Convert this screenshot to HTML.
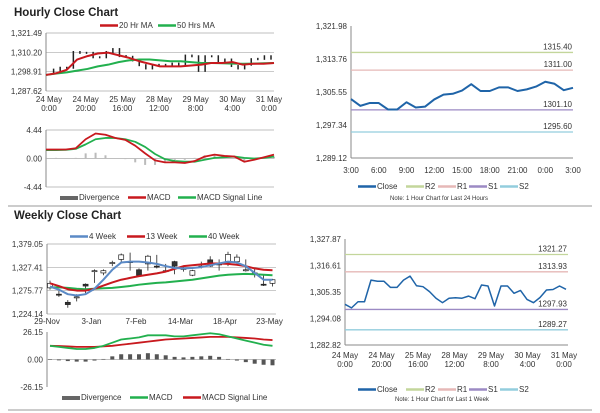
<!DOCTYPE html>
<html><head><meta charset="utf-8"><style>
body{margin:0;background:#fff}
svg{display:block;font-family:"Liberation Sans",sans-serif}
text{fill:#333;font-size:8px}
.t{font-size:11.5px;font-weight:bold;fill:#222}
</style></head><body>
<svg id="c" width="600" height="413" viewBox="0 0 600 413">
<text class="t" x="14" y="16">Hourly Close Chart</text>
<text class="t" x="14" y="219">Weekly Close Chart</text>
<line x1="8" y1="206" x2="592" y2="206" stroke="#999"/>
<line x1="8" y1="410" x2="592" y2="410" stroke="#999"/>
<text x="390" y="200" style="font-size:6px">Note: 1 Hour Chart for Last 24 Hours</text>
<text x="395" y="401" style="font-size:6px">Note: 1 Hour Chart for Last 1 Week</text>
</svg>
<script>
// ---- data ----
const hourTicks=[1321.49,1310.20,1298.91,1287.62];
const hourXLabels=[["24 May","0:00"],["24 May","20:00"],["25 May","16:00"],["28 May","12:00"],["29 May","8:00"],["30 May","4:00"],["31 May","0:00"]];
const weekHourClose=[1300.1,1298.6,1301.2,1301.2,1310.4,1309.9,1309.9,1307.3,1307.3,1310.4,1312.1,1308,1307.6,1305.5,1302.7,1300.8,1302.7,1302.9,1302.7,1303.6,1302.5,1308.3,1307.9,1299.4,1307.9,1307.9,1304.8,1306,1302.2,1300.8,1303,1306.2,1306.4,1307.9,1306.5];
const ma20=[1297,1298,1300,1306,1308,1309.5,1310,1308.5,1307,1305,1303.5,1302,1302,1302,1302.5,1303,1304,1304,1304.5,1303,1303.5,1303.5,1304];
const ma50=[1297,1297.8,1298.5,1299.5,1300.5,1302,1303,1304.5,1305.5,1306,1306,1305.5,1305,1305,1304.5,1304,1304,1303.8,1303.6,1303.5,1303.6,1303.8,1304];
const macdTicks=[4.44,0,-4.44];
const hMacd=[1.4,1.4,1.4,1.6,3.0,3.9,3.7,3.2,2.9,2.0,0.8,-0.3,-0.6,-0.6,-0.7,-0.4,0.3,0.6,0.4,0.3,-0.5,-0.2,0.2,0.6];
const hSignal=[1.3,1.3,1.35,1.5,2.2,3.0,3.2,3.2,3.0,2.6,1.8,0.7,-0.1,-0.4,-0.5,-0.5,-0.2,0.1,0.2,0.3,0.1,0,0.1,0.3];
const dayTicks=[1321.98,1313.76,1305.55,1297.34,1289.12];
const dayXLabels=["3:00","6:00","9:00","12:00","15:00","18:00","21:00","0:00","3:00"];
const dayClose=[1303.8,1302.1,1302.8,1302.8,1301.2,1301.2,1303.0,1301.7,1301.9,1303.7,1304.9,1305.1,1305.9,1307.5,1305.8,1305.8,1306.7,1306.7,1305.8,1306.2,1306.9,1308.1,1307.6,1306.0,1306.6];
const dayLevels=[1315.40,1311.00,1301.10,1295.60];
const weekTicks=[1327.87,1316.61,1305.35,1294.08,1282.82];
const weekLevels=[1321.27,1313.93,1297.93,1289.27];
const wTicks=[1379.05,1327.41,1275.77,1224.14];
const wLabels=["29-Nov","3-Jan","7-Feb","14-Mar","18-Apr","23-May"];
const wOpen=[1282,1268,1250,1262,1290,1320,1315,1338,1345,1340,1322,1335,1330,1318,1340,1325,1310,1330,1344,1333,1338,1340,1322,1315,1290,1292];
const wClose=[1292,1266,1245,1262,1286,1320,1320,1338,1355,1340,1310,1352,1328,1320,1330,1325,1320,1330,1330,1335,1356,1350,1322,1315,1288,1300];
const wHigh=[1298,1275,1255,1268,1292,1323,1323,1342,1358,1360,1325,1355,1355,1335,1342,1330,1322,1340,1352,1345,1362,1356,1345,1325,1310,1302];
const wLow=[1278,1262,1238,1252,1270,1293,1310,1330,1340,1320,1310,1320,1325,1318,1312,1318,1308,1325,1328,1320,1330,1335,1318,1305,1286,1285];
const w4=[1285,1278,1268,1265,1268,1280,1300,1322,1338,1340,1340,1338,1335,1330,1326,1325,1326,1328,1332,1336,1340,1338,1330,1315,1300,1300];
const w13=[1292,1286,1279,1276,1276,1280,1287,1294,1300,1304,1308,1311,1314,1318,1324,1330,1332,1334,1336,1336,1335,1333,1330,1325,1322,1321];
const w40=[1283,1283,1282,1280,1279,1280,1281,1282,1284,1286,1289,1291,1293,1294,1296,1298,1300,1303,1306,1309,1311,1312,1313,1312,1311,1310];
const wMacdTicks=[26.15,0,-26.15];
const wMacd=[13,12,11,10,10,11,13,16,19,20,21,23,23,23,22,22,23,24,25,24,22,20,18,16,14,13];
const wSignal=[13,12.8,12.5,12,12,12,12.5,13,14,15,16,17,18,19,19.5,20,20.5,21,21.5,21.5,21.5,21,20.5,20,19,18.5];

// ---- helpers ----
const NS="http://www.w3.org/2000/svg",svg=document.getElementById('c');
function mk(tag,at,name,txt){const el=document.createElementNS(NS,tag);for(const k in at)el.setAttribute(k,at[k]);


if(txt!==undefined)el.textContent=txt;svg.appendChild(el);return el;}
const lin=(d0,d1,r0,r1)=>v=>r0+(v-d0)*(r1-r0)/(d1-d0);
const fmt=v=>v.toLocaleString('en-US',{minimumFractionDigits:2,maximumFractionDigits:2});
function yAxis(ticks,y,x0,x1,name,grid,fmtf){ticks.forEach(t=>{
 if(grid)mk('line',{x1:x0,x2:x1,y1:y(t),y2:y(t),stroke:'#aaa','stroke-width':0.7},name+'-grid');
 mk('text',{x:x0-4,y:y(t)+3,'text-anchor':'end'},name+'-tick',(fmtf||fmt)(t));});
 mk('line',{x1:x0,x2:x0,y1:y(ticks[0]),y2:y(ticks[ticks.length-1]),stroke:'#888'},name+'-axis');}
function poly(vals,x,y,col,w,name){mk('polyline',{points:vals.map((v,i)=>x(i)+','+y(v)).join(' '),fill:'none',stroke:col,'stroke-width':w,'stroke-linejoin':'round'},name);}
function xLab2(labels,x0,x1,yy,name){labels.forEach((l,i)=>{const x=x0+i*(x1-x0)/(labels.length-1);
 mk('text',{x:x,y:yy,'text-anchor':'middle'},name,l[0]);mk('text',{x:x,y:yy+9,'text-anchor':'middle'},name,l[1]);});}
function legend(items,yy,name){items.forEach(it=>{
 if(it[3]==='bar')mk('rect',{x:it[1],y:yy-4,width:18,height:4,fill:'#666'},name+'-swatch');
 else mk('line',{x1:it[1],x2:it[1]+18,y1:yy-2.5,y2:yy-2.5,stroke:it[2],'stroke-width':it[3]||2.5},name+'-swatch');
 mk('text',{x:it[1]+19,y:yy},name+'-label',it[0]);});}
const RED='#c8191e',GREEN='#22b04e',BLUE='#1f64a8',R2='#c3d69b',R1='#e6b8b7',S1='#9c8ac4',S2='#93cddd';

// ---- Panel A: hourly price ----
(function(){const y=lin(1287.62,1321.49,91,33),x=i=>47+i*(271-47)/(weekHourClose.length-1);
 yAxis(hourTicks,y,46,274,'hourly-price',true);
 const xm=i=>46+i*(274-46)/(ma20.length-1);
 weekHourClose.forEach((v,i)=>{if(i>0){const p=weekHourClose[i-1];
  mk('rect',{x:x(i)-0.75,y:Math.min(y(v),y(p))-1,width:1.5,height:Math.max(2,Math.abs(y(v)-y(p))+2),fill:'#222'},'hourly-candle');}});
 poly(ma50,xm,y,GREEN,2,'ma50-line');poly(ma20,xm,y,RED,2,'ma20-line');
 xLab2(hourXLabels,49,269,102,'hourly-x-label');
 legend([["20 Hr MA",100,RED],["50 Hrs MA",158,GREEN]],28,'hourly-legend');})();
// ---- Panel B: hourly MACD ----
(function(){const y=lin(-4.44,4.44,187,130),x=i=>46+i*(274-46)/(hMacd.length-1);
 yAxis(macdTicks,y,46,274,'hourly-macd',true,v=>v.toFixed(2));
 hMacd.forEach((m,i)=>{const d=m-hSignal[i];mk('rect',{x:x(i)-1,y:Math.min(y(0),y(d)),width:2,height:Math.abs(y(d)-y(0)),fill:'#bbb'},'hourly-divergence-bar');});
 poly(hSignal,x,y,GREEN,1.8,'hourly-signal-line');poly(hMacd,x,y,RED,1.8,'hourly-macd-line');
 legend([["Divergence",60,'#666','bar'],["MACD",128,RED],["MACD Signal Line",178,GREEN]],200,'hourly-macd-legend');})();
// ---- Panel C: weekly price ----
(function(){const y=lin(1224.14,1379.05,314,244),x=i=>50+i*8.9;
 yAxis(wTicks,y,47,276,'weekly-price',true);
 wOpen.forEach((o,i)=>{const c=wClose[i];mk('line',{x1:x(i),x2:x(i),y1:y(wHigh[i]),y2:y(wLow[i]),stroke:'#222','stroke-width':0.8},'weekly-wick');
  mk('rect',{x:x(i)-2.5,y:Math.min(y(o),y(c)),width:5,height:Math.max(1,Math.abs(y(o)-y(c))),fill:c>=o?'#fff':'#333',stroke:'#222','stroke-width':0.7},'weekly-candle');});
 poly(w40,x,y,GREEN,2,'week40-line');poly(w13,x,y,RED,2,'week13-line');poly(w4,x,y,'#5b8ac6',2,'week4-line');
 wLabels.forEach((l,i)=>mk('text',{x:x(i*5)-3,y:324,'text-anchor':'middle'},'weekly-x-label',l));
 legend([["4 Week",70,'#5b8ac6'],["13 Week",127,RED],["40 Week",189,GREEN]],239,'weekly-legend');})();
// ---- Panel C2: weekly MACD ----
(function(){const y=lin(-26.15,26.15,387,332),x=i=>50+i*8.9;
 yAxis(wMacdTicks,y,47,276,'weekly-macd',false,v=>v.toFixed(2));
 mk('line',{x1:47,x2:276,y1:y(0),y2:y(0),stroke:'#aaa','stroke-width':0.7},'weekly-macd-zero');
 wMacd.forEach((m,i)=>{const d=m-wSignal[i];mk('rect',{x:x(i)-2,y:Math.min(y(0),y(d)),width:4,height:Math.max(0.5,Math.abs(y(d)-y(0))),fill:'#555'},'weekly-divergence-bar');});
 poly(wSignal,x,y,RED,1.8,'weekly-signal-line');poly(wMacd,x,y,GREEN,1.8,'weekly-macd-line');
 legend([["Divergence",62,'#666','bar'],["MACD",130,GREEN],["MACD Signal Line",183,RED]],400,'weekly-macd-legend');})();
// ---- Panel D: 24h close ----
function levels(lv,y,x0,x1,name){[R2,R1,S1,S2].forEach((c,i)=>{mk('line',{x1:x0,x2:x1,y1:y(lv[i]),y2:y(lv[i]),stroke:c,'stroke-width':1.3},name+'-level');
 mk('text',{x:x1-1,y:y(lv[i])-3,'text-anchor':'end','font-size':'9'},name+'-level-label',lv[i].toFixed(2));});}
(function(){const y=lin(1289.12,1321.98,158,26),x=i=>351+i*(573-351)/(dayClose.length-1);
 yAxis(dayTicks,y,351,573,'day-price',false);
 mk('line',{x1:351,x2:573,y1:158,y2:158,stroke:'#888'},'day-x-axis');
 levels(dayLevels,y,351,573,'day');
 poly(dayClose,x,y,BLUE,2,'day-close-line');
 dayXLabels.forEach((l,i)=>mk('text',{x:351+i*(573-351)/8,y:173,'text-anchor':'middle'},'day-x-label',l));
 legend([["Close",358,BLUE],["R2",406,R2],["R1",438,R1],["S1",469,S1],["S2",500,S2]],189,'day-legend');})();
// ---- Panel E: 1 week close ----
(function(){const y=lin(1282.82,1327.87,345,239),x=i=>345+i*(566-345)/(weekHourClose.length-1);
 yAxis(weekTicks,y,345,568,'week-price',false);
 mk('line',{x1:345,x2:568,y1:345,y2:345,stroke:'#888'},'week-x-axis');
 levels(weekLevels,y,345,568,'week');
 poly(weekHourClose,x,y,BLUE,1.5,'week-close-line');
 xLab2(hourXLabels,345,564,358,'week-x-label');
 legend([["Close",358,BLUE],["R2",406,R2],["R1",438,R1],["S1",469,S1],["S2",500,S2]],392,'week-legend');})();
</script>
</body></html>
